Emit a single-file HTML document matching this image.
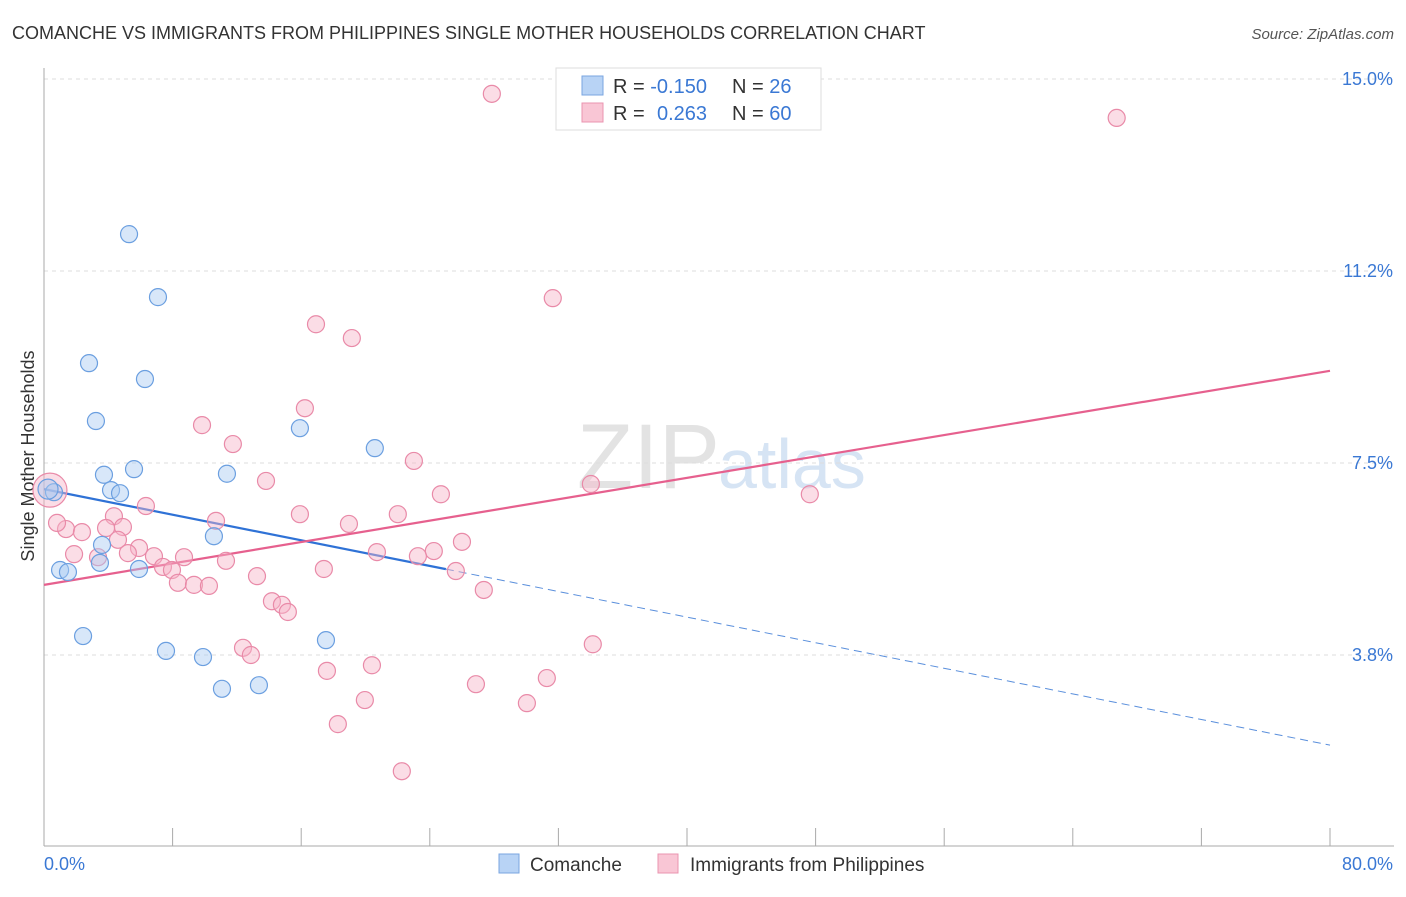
<!DOCTYPE html>
<html><head><meta charset="utf-8"><style>
body{margin:0;background:#fff;font-family:"Liberation Sans",sans-serif;}
svg text{font-family:"Liberation Sans",sans-serif;}
</style></head><body>
<svg id="chart" width="1406" height="892">
<text x="12" y="39" font-size="18" fill="#333">COMANCHE VS IMMIGRANTS FROM PHILIPPINES SINGLE MOTHER HOUSEHOLDS CORRELATION CHART</text>
<text x="1394" y="39" font-size="15" fill="#555" font-style="italic" text-anchor="end">Source: ZipAtlas.com</text>
<text x="0" y="0" font-size="18" fill="#333" text-anchor="middle" transform="translate(34,456) rotate(-90)">Single Mother Households</text>
<text x="720" y="488" font-size="92" fill="#e3e3e3" text-anchor="end" font-family="Liberation Serif">ZIP</text>
<text x="718" y="488" font-size="70" fill="#d6e4f4">atlas</text>
<g id="grid"></g><g id="axes"></g><g id="trends"></g><g id="points"></g>
<g>
<rect x="556" y="68" width="265" height="62" fill="#fff" stroke="#ddd"/>
<rect x="582" y="76" width="21" height="19" fill="#b8d3f5" stroke="#7aa6e0"/>
<rect x="582" y="103" width="21" height="19" fill="#f9c6d5" stroke="#ea94b0"/>
<text x="613" y="93" font-size="20" fill="#333">R = <tspan fill="#3a78d4">-0.150</tspan><tspan x="732">N = </tspan><tspan fill="#3a78d4">26</tspan></text>
<text x="613" y="120" font-size="20" fill="#333">R = <tspan x="657" fill="#3a78d4">0.263</tspan><tspan x="732">N = </tspan><tspan fill="#3a78d4">60</tspan></text>
</g>
<g>
<rect x="499" y="854" width="20" height="19" fill="#b8d3f5" stroke="#7aa6e0"/>
<text x="530" y="871" font-size="19" fill="#333">Comanche</text>
<rect x="658" y="854" width="20" height="19" fill="#f9c6d5" stroke="#ea94b0"/>
<text x="690" y="871" font-size="19" fill="#333">Immigrants from Philippines</text>
</g>
</svg>
<script>
const blueX=[5.29,7.09,2.80,6.28,3.23,15.92,20.58,5.60,3.73,11.38,4.17,4.73,0.62,10.57,3.61,3.48,5.91,1.00,1.49,2.43,17.54,7.59,9.89,11.07,13.37,0.25];
const blueY=[11.97,10.74,9.45,9.14,8.32,8.18,7.79,7.38,7.27,7.29,6.97,6.91,6.93,6.07,5.90,5.55,5.43,5.41,5.37,4.12,4.04,3.83,3.71,3.09,3.16,6.99];
const pinkX=[27.86,66.73,31.65,16.92,19.15,16.23,9.83,11.75,23.01,13.81,34.02,24.69,47.64,6.34,4.35,15.92,22.01,10.70,18.97,1.37,4.91,3.86,0.81,2.36,4.60,26.00,5.91,5.22,1.87,24.25,20.71,23.26,3.36,6.84,8.71,11.32,7.40,7.96,17.41,25.62,8.33,9.33,10.26,13.25,27.36,14.18,14.80,15.17,34.14,12.38,12.87,20.40,17.60,31.28,26.87,19.96,30.04,18.28,22.26,0.37];
const pinkY=[14.71,14.24,10.72,10.21,9.94,8.57,8.24,7.87,7.54,7.15,7.09,6.89,6.89,6.66,6.46,6.50,6.50,6.37,6.31,6.21,6.25,6.23,6.33,6.15,6.00,5.96,5.84,5.74,5.72,5.78,5.76,5.68,5.66,5.68,5.66,5.59,5.47,5.41,5.43,5.39,5.16,5.12,5.10,5.29,5.02,4.80,4.73,4.59,3.96,3.89,3.75,3.55,3.44,3.30,3.18,2.87,2.81,2.40,1.48,6.97];
const yTicks=[3.75,7.5,11.25,15.0];
const yTickLabels=["3.8%","7.5%","11.2%","15.0%"];
const xTicks=[0,8,16,24,32,40,48,56,64,72,80];
const blueTrend=[6.99,1.99]; // values at x=0 and x=80
const blueSolidEnd=25.0;
const pinkTrend=[5.12,9.30];

const NS="http://www.w3.org/2000/svg";
const X=v=>44+v*16.075, Y=v=>847-v*51.2;
function mk(t,a,p){const e=document.createElementNS(NS,t);for(const k in a)e.setAttribute(k,a[k]);p.appendChild(e);return e;}
const grid=document.getElementById('grid'),axes=document.getElementById('axes'),tr=document.getElementById('trends'),pts=document.getElementById('points');
yTicks.forEach((v,i)=>{
 const l=mk('line',{x1:44,x2:1394,y1:Y(v),y2:Y(v),stroke:'#ddd','stroke-dasharray':'4,4'},grid);
 
 
 const t=mk('text',{x:1393,y:Y(v)+6,'font-size':18,fill:'#3a78d4','text-anchor':'end'},grid);
 t.textContent=yTickLabels[i];
 
 
});
const ax=mk('line',{x1:44,x2:44,y1:68,y2:846,stroke:'#aaa'},axes);


const bx=mk('line',{x1:44,x2:1394,y1:846,y2:846,stroke:'#aaa'},axes);


xTicks.forEach(v=>{const t=mk('line',{x1:X(v),x2:X(v),y1:828,y2:846,stroke:'#aaa'},axes);
 
 });
const xl0=mk('text',{x:44,y:870,'font-size':18,fill:'#3a78d4'},axes);xl0.textContent=xTicks[0].toFixed(1)+'%';


const xl1=mk('text',{x:1393,y:870,'font-size':18,fill:'#3a78d4','text-anchor':'end'},axes);xl1.textContent=xTicks[xTicks.length-1].toFixed(1)+'%';


function pt(x,y,r,f,s){const c=mk('circle',{cx:X(x),cy:Y(y),r:r,fill:f,'fill-opacity':0.45,stroke:s,'stroke-width':1.2},pts);return c;}
pinkX.forEach((x,i)=>{const c=pt(x,pinkY[i],i===pinkX.length-1?17:8.5,'#f7b3c7','#e98aa8');
 
 });
blueX.forEach((x,i)=>{const c=pt(x,blueY[i],i===blueX.length-1?10:8.5,'#a9c9f2','#6b9fe0');
 
 });
const bv=x=>blueTrend[0]+(blueTrend[1]-blueTrend[0])*x/80;
const b1=mk('line',{x1:X(0),y1:Y(bv(0)),x2:X(blueSolidEnd),y2:Y(bv(blueSolidEnd)),stroke:'#2f72d6','stroke-width':2.2},tr);


const b2=mk('line',{x1:X(blueSolidEnd),y1:Y(bv(blueSolidEnd)),x2:X(80),y2:Y(bv(80)),stroke:'#5a8fdc','stroke-width':1,'stroke-dasharray':'8,5'},tr);


const p1=mk('line',{x1:X(0),y1:Y(pinkTrend[0]),x2:X(80),y2:Y(pinkTrend[1]),stroke:'#e6608e','stroke-width':2.2},tr);


</script>
</body></html>
